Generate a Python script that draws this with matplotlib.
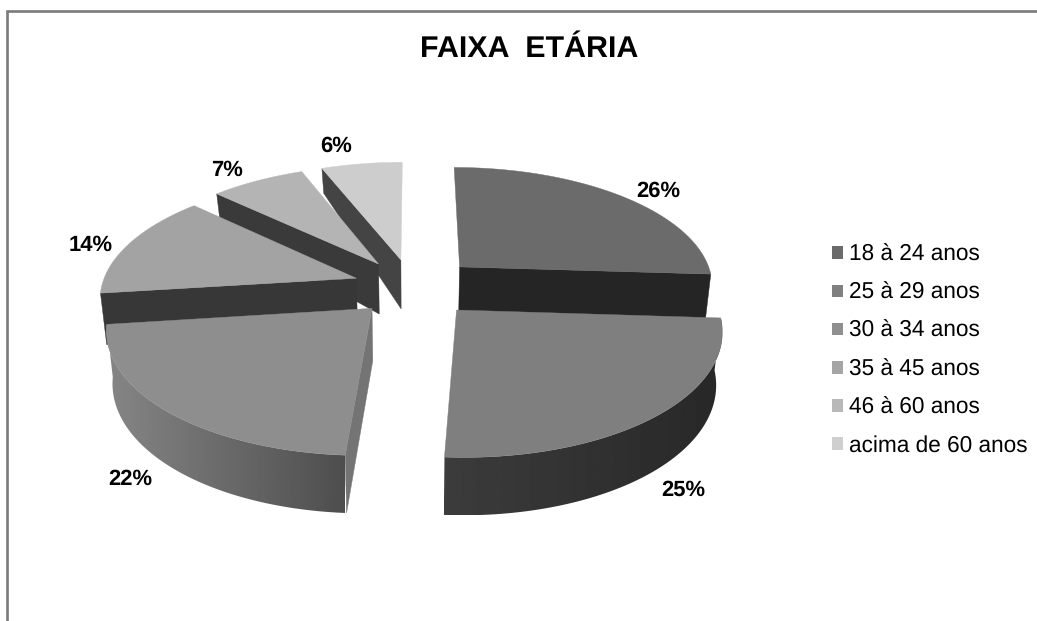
import numpy as np
import matplotlib
matplotlib.use('Agg')
import matplotlib.pyplot as plt
from matplotlib.patches import Patch, Polygon

plt.rcParams['font.family'] = ['Liberation Sans', 'DejaVu Sans']
plt.rcParams['text.hinting'] = 'no_hinting'

title = "FAIXA  ETÁRIA"
categories = ['18 à 24 anos', '25 à 29 anos', '30 à 34 anos',
              '35 à 45 anos', '46 à 60 anos', 'acima de 60 anos']
values = [26, 25, 22, 14, 7, 6]

# look of the slices: top face, the visible radial cuts, rim gradient left to right
top_colors = ['#6b6b6b', '#7f7f7f', '#8e8e8e', '#a3a3a3', '#b4b4b4', '#cdcdcd']
legend_colors = ['#6b6b6b', '#808080', '#8f8f8f', '#a5a5a5', '#b8b8b8', '#cfcfcf']
start_cut = [None, None, '#747474', '#373737', '#3a3a3a', '#444444']
end_cut = ['#252525', None, None, None, None, None]
rim_grad = [None, (0x3c, 0x28), (0x86, 0x4e), None, None, None]
draw_order = [5, 4, 3, 0, 2, 1]
slice_shift = [(4, 0), (3, 2), (3, 1), (2, 1), (0, 1), (0, 1)]
label_nudge = [(41, -5), (30, 76), (-33, 69), (-36, 2), (-30, -10), (-26, -17)]

# fake 3D camera, in pixels
cx, cy = 412, 286
rx, ry = 255, 119
persp = 0.145
explode = 0.24
base_shrink = 0.98


def project(x, z):
    s = 1 / (1 + persp * z)
    return cx + rx * x * s, cy - ry * z * s


def thickness(z):
    return np.interp(z, [-1.2, 0.2, 1.2], [58, 50, 24])


def disc(theta, r, mid):
    x = r * np.sin(theta) + explode * np.sin(mid)
    z = r * np.cos(theta) + explode * np.cos(mid)
    return x, z


def base_x(x):
    return cx + (x - cx) * base_shrink


fig = plt.figure(figsize=(10.37, 6.21), dpi=100)
ax = fig.add_axes([0, 0, 1, 1])
ax.axis('off')

ax.plot([6.5, 6.5, 1037], [621, 11, 11], color='#7a7a7a', lw=1.9,
        solid_joinstyle='miter')

edges = np.cumsum([0] + values) / sum(values) * 2 * np.pi

for n, i in enumerate(draw_order):
    a0, a1 = edges[i], edges[i + 1]
    mid = (a0 + a1) / 2
    th = np.linspace(a0, a1, 80)
    xo, zo = disc(th, 1.0, mid)
    px, py = project(xo, zo)
    px = px + slice_shift[i][0]
    py = py + slice_shift[i][1]
    depth = thickness(zo)
    bx = base_x(px)
    ax0, az0 = disc(a0, 0.0, mid)
    apx, apy = project(ax0, az0)
    apx += slice_shift[i][0]
    apy += slice_shift[i][1]
    apd = thickness(az0)
    zo_base = 2 + n

    # radial cuts
    if start_cut[i]:
        ax.fill([apx, px[0], bx[0], base_x(apx)], [apy, py[0], py[0] + depth[0], apy + apd],
                color=start_cut[i], lw=0.3, zorder=zo_base)
    if end_cut[i]:
        ax.fill([apx, px[-1], bx[-1], base_x(apx)], [apy, py[-1], py[-1] + depth[-1], apy + apd],
                color=end_cut[i], lw=0.3, zorder=zo_base)

    # outer rim: gradient image clipped to the rim outline
    if rim_grad[i]:
        rim = np.c_[np.r_[px, bx[::-1]], np.r_[py, (py + depth)[::-1]]]
        grad = np.linspace(rim_grad[i][0], rim_grad[i][1], 256).reshape(1, -1)
        im = ax.imshow(grad, cmap='gray', vmin=0, vmax=255, aspect='auto',
                       extent=[px.min(), px.max(), (py + depth).max(), py.min()],
                       zorder=zo_base + 0.2)
        im.set_clip_path(Polygon(rim, closed=True, transform=ax.transData))

    ax.fill(np.r_[apx, px], np.r_[apy, py], color=top_colors[i], lw=0.3,
            zorder=zo_base + 0.4)

for i, v in enumerate(values):
    mid = (edges[i] + edges[i + 1]) / 2
    lx, ly = project(*disc(mid, 1.0, mid))
    ax.text(lx + label_nudge[i][0], ly + label_nudge[i][1], f'{v}%',
            fontsize=15.8, fontweight='bold', ha='center', va='center', color='black',
            zorder=20)

ax.text(529, 49, title, fontsize=21.9, fontweight='bold', ha='center', va='center',
        color='black')

ax.set_xlim(0, 1037)
ax.set_ylim(621, 0)

handles = [Patch(facecolor=c, edgecolor='none') for c in legend_colors]
fig.legend(handles, categories, loc='center left', bbox_to_anchor=(0.8025, 0.436),
           frameon=False, fontsize=16.3, labelspacing=0.74, handlelength=0.48,
           handleheight=0.48, handletextpad=0.28, borderpad=0, borderaxespad=0)

fig.savefig('out.png', dpi=100)
